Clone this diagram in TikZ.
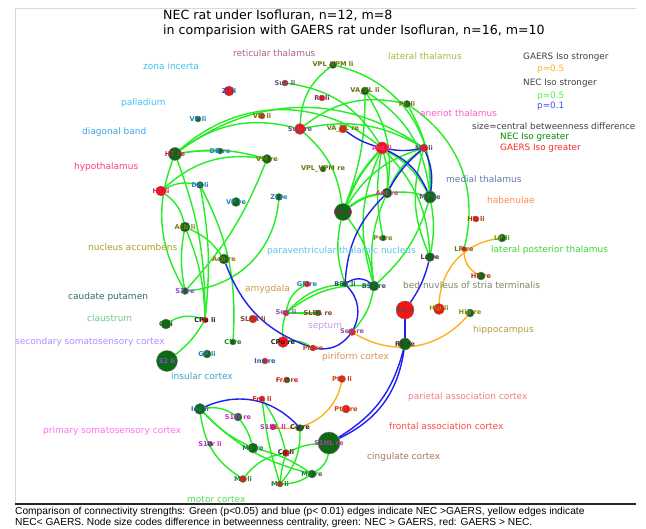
\documentclass[tikz,border=0pt]{standalone}
\usepackage{fontspec}
\setmainfont{DejaVu Sans}
\newfontfamily\capfont{Liberation Sans}
\definecolor{edgegreen}{HTML}{22EE22}
\definecolor{edgeblue}{HTML}{1E1EF0}
\definecolor{edgeorange}{HTML}{FFB020}
\definecolor{nodegreen}{HTML}{0B6A12}
\definecolor{nodered}{HTML}{FF1010}
\pgfdeclarelayer{paper}
\pgfdeclarelayer{edges}
\pgfsetlayers{paper,edges,main}
% one brain region: name, x, y, diameter, fill, label, label colour
\newcommand\bnd[7]{%
  \definecolor{lc#1}{HTML}{#7}%
  \node[bnode,fill=#5,minimum size=#4pt] (#1) at (#2,#3) {};
  \node[blabel,text=lc#1] (#1-t) at (#2,#3) {#6};}
% one coloured region caption: name, x, y, colour, text
\newcommand\rgn[5]{%
  \definecolor{rc#1}{HTML}{#4}%
  \node[region,text=rc#1] (#1) at (#2,#3) {#5};}
\begin{document}
\begin{tikzpicture}[x=1pt,y=-1pt,
  bnode/.style={circle,draw=black!55,line width=0.4pt,inner sep=0pt},
  blabel/.style={font=\fontsize{6.6}{7}\selectfont\bfseries,inner sep=0pt},
  region/.style={anchor=west,font=\fontsize{9}{10}\selectfont,inner sep=0pt},
  legend/.style={anchor=west,font=\fontsize{8.8}{10}\selectfont,inner sep=0pt},
  ge/.style={draw=edgegreen,line width=1.4pt},
  gt/.style={draw=edgegreen,line width=2.2pt},
  be/.style={draw=edgeblue,line width=1.4pt},
  oe/.style={draw=edgeorange,line width=1.4pt},
]
\useasboundingbox (0,0) rectangle (646,529);
\begin{pgfonlayer}{paper}
\fill[white] (0,0) rectangle (646,529);
\end{pgfonlayer}

% frame of the plot area
\draw[black!15,line width=1pt] (15,504) -- (15,9) -- (636,9);
\draw[black!85,line width=1.4pt] (15,504) -- (636,504);

% title
\node[anchor=west,font=\fontsize{12.6}{14}\selectfont,inner sep=0pt] (title1) at (163,15) {NEC rat under Isofluran, n=12, m=8};
\node[anchor=west,font=\fontsize{12.6}{14}\selectfont,inner sep=0pt] (title2) at (163,31) {in comparision with GAERS rat under Isofluran, n=16, m=10};

% legend
\node[legend,text=black!75] (lg1) at (523,57) {GAERS Iso stronger};
\node[legend,text=edgeorange] (lg2) at (537,69) {p=0.5};
\node[legend,text=black!75] (lg3) at (523,83) {NEC Iso stronger};
\node[legend,text=edgegreen!80] (lg4) at (537,96) {p=0.5};
\node[legend,text=edgeblue!80] (lg5) at (537,106) {p=0.1};
\node[legend,text=black!75] (lg6) at (472,126) {size=central betweenness difference};
\node[legend,text=green!55!black] (lg7) at (500,137) {NEC Iso greater};
\node[legend,text=red!85] (lg8) at (500,148) {GAERS Iso greater};

% region captions
\rgn{r1}{233}{53}{B0608F}{reticular thalamus}
\rgn{r2}{143}{66}{3EC3F0}{zona incerta}
\rgn{r3}{388}{56}{9CC040}{lateral thalamus}
\rgn{r4}{121}{103}{3EC3F0}{palladium}
\rgn{r5}{82}{132}{3AA6E8}{diagonal band}
\rgn{r6}{420}{113}{FF5CC8}{aneriot thalamus}
\rgn{r7}{74}{167}{FF3D7F}{hypothalamus}
\rgn{r8}{446}{179}{6A7AA8}{medial thalamus}
\rgn{r9}{487}{200}{FF8A4A}{habenulae}
\rgn{r10}{491}{250}{3FD43F}{lateral posterior thalamus}
\rgn{r11}{88}{247}{A8A020}{nucleus accumbens}
\rgn{r12}{267}{251}{5CC6E6}{paraventricular thalamic nucleus}
\rgn{r13}{245}{289}{D09A40}{amygdala}
\rgn{r14}{403}{285}{758A6A}{bed nuvleus of stria terminalis}
\rgn{r15}{68}{297}{2E6B6B}{caudate putamen}
\rgn{r16}{87}{318}{72C98A}{claustrum}
\rgn{r17}{308}{326}{C89AE8}{septum}
\rgn{r18}{15}{342}{B38CFF}{secondary somatosensory cortex}
\rgn{r19}{473}{330}{B89A48}{hippocampus}
\rgn{r20}{171}{376}{3DA5C8}{insular cortex}
\rgn{r21}{322}{357}{E09050}{piriform cortex}
\rgn{r22}{408}{397}{F07C8A}{parietal association cortex}
\rgn{r23}{389}{426}{FF4848}{frontal association cortex}
\rgn{r24}{43}{431}{FF70F0}{primary somatosensory cortex}
\rgn{r25}{367}{457}{A87858}{cingulate cortex}
\rgn{r26}{187}{499}{5CD65C}{motor cortex}

% brain regions
\bnd{ZIli}{229}{91}{10}{nodered}{ZI li}{2050C0}
\bnd{Subli}{285}{83}{6}{nodered}{Sub li}{605878}
\bnd{VPLli}{333}{65}{7}{nodegreen}{VPL\_VPM li}{707010}
\bnd{Rtli}{322}{98}{6}{nodered}{Rt li}{902060}
\bnd{VAli}{365}{91}{8}{nodegreen}{VA\_VL li}{707010}
\bnd{Poli}{407}{104}{7}{nodegreen}{Po li}{707010}
\bnd{VPli}{198}{119}{6}{nodegreen}{VP li}{2080C0}
\bnd{VMli}{262}{116}{6}{nodered}{VM li}{707010}
\bnd{Subre}{300}{129}{11}{nodered}{Sub re}{605878}
\bnd{VAre}{343}{129}{8}{nodered}{VA\_VL re}{707010}
\bnd{Antli}{382}{148}{12}{nodered}{Ant li}{E030A0}
\bnd{MTli}{424}{148}{8}{nodered}{MT li}{605878}
\bnd{HTre}{175}{154}{13}{nodegreen}{HT re}{D02050}
\bnd{DBre}{220}{151}{6}{nodegreen}{DB re}{2080D0}
\bnd{VMre}{267}{159}{9}{nodegreen}{VM re}{707010}
\bnd{VPLre}{323}{169}{6}{nodegreen}{VPL\_VPM re}{707010}
\bnd{DBli}{200}{185}{7}{nodegreen}{DB li}{2080D0}
\bnd{HTli}{161}{191}{10}{nodered}{HT li}{D02050}
\bnd{VPre}{236}{202}{9}{nodegreen}{VP re}{2080C0}
\bnd{ZIre}{279}{197}{7}{nodegreen}{ZI re}{2080C0}
\bnd{Antre}{387}{193}{10}{nodegreen}{Ant re}{E030A0}
\bnd{MTre}{430}{197}{12}{nodegreen}{MT re}{505878}
\bnd{Rtre}{343}{212}{17}{nodegreen}{Rt re}{902060}
\bnd{Hbli}{476}{219}{6}{nodered}{Hb li}{A04010}
\bnd{Acbli}{185}{227}{10}{nodegreen}{Acb li}{8A7A10}
\bnd{Pvre}{383}{238}{6}{nodegreen}{Pv re}{808020}
\bnd{LPli}{502}{238}{8}{nodegreen}{LP li}{60A010}
\bnd{LPre}{464}{249}{5}{nodered}{LP re}{707010}
\bnd{Lare}{430}{257}{9}{nodegreen}{La re}{404040}
\bnd{Acbre}{224}{259}{10}{nodegreen}{Acb re}{8A7A10}
\bnd{Hbre}{481}{276}{8}{nodegreen}{Hb re}{A04010}
\bnd{GPre}{307}{284}{6}{nodered}{GP re}{2080A0}
\bnd{BSTli}{345}{284}{6}{nodegreen}{BST li}{206060}
\bnd{BSTre}{374}{286}{10}{nodegreen}{BST re}{206060}
\bnd{S2re}{185}{291}{7}{nodegreen}{S2 re}{8050D0}
\bnd{Hipli}{439}{309}{11}{nodered}{Hip li}{909010}
\bnd{RSli}{405}{310}{18}{nodered}{RS li}{505050}
\bnd{Hipre}{470}{313}{8}{nodegreen}{Hip re}{909010}
\bnd{Sepli}{286}{313}{6}{nodered}{Sep li}{9050B0}
\bnd{SLEAre}{318}{313}{6}{nodegreen}{SLEA re}{904020}
\bnd{SLEAli}{253}{319}{8}{nodered}{SLEA li}{904020}
\bnd{CPuli}{205}{320}{6}{nodered}{CPu li}{202020}
\bnd{Clli}{166}{324}{10}{nodegreen}{Cl li}{206020}
\bnd{Sepre}{352}{332}{7}{nodered}{Sep re}{9050B0}
\bnd{Clre}{233}{342}{6}{nodegreen}{Cl re}{208030}
\bnd{CPure}{283}{342}{11}{nodered}{CPu re}{202020}
\bnd{RSre}{405}{344}{12}{nodegreen}{RS re}{503020}
\bnd{Pirre}{313}{348}{6}{nodered}{Pir re}{B05020}
\bnd{GPli}{207}{354}{8}{nodegreen}{GP li}{2080A0}
\bnd{S2li}{167}{361}{21}{nodegreen}{S2 li}{8050D0}
\bnd{Insre}{265}{361}{6}{nodered}{Ins re}{2060A0}
\bnd{PtAli}{342}{379}{7}{nodered}{PtA li}{D04010}
\bnd{FrAre}{287}{380}{6}{nodegreen}{FrA re}{D02020}
\bnd{FrAli}{262}{399}{6}{nodered}{FrA li}{D02020}
\bnd{PtAre}{346}{409}{8}{nodered}{PtA re}{D04010}
\bnd{Insli}{200}{409}{11}{nodegreen}{Ins li}{2070A0}
\bnd{S1Trre}{238}{417}{8}{nodegreen}{S1Tr re}{C030C0}
\bnd{S1HLli}{273}{427}{6}{nodered}{S1HL li}{C030C0}
\bnd{Cgre}{300}{428}{7}{nodegreen}{Cg re}{402020}
\bnd{S1HLre}{329}{443}{22}{nodegreen}{S1HL re}{C030C0}
\bnd{S1Trli}{210}{444}{5}{nodegreen}{S1Tr li}{C030C0}
\bnd{M1re}{253}{448}{10}{nodegreen}{M1 re}{208030}
\bnd{Cgli}{286}{453}{7}{nodered}{Cg li}{402020}
\bnd{M2re}{312}{474}{8}{nodegreen}{M2 re}{208030}
\bnd{M1li}{243}{479}{7}{nodered}{M1 li}{208030}
\bnd{M2li}{280}{484}{6}{nodered}{M2 li}{208030}

\begin{pgfonlayer}{edges}
% NEC stronger, p=0.5
\draw[ge] (HTre) to[bend left=40] (Antli);
\draw[ge] (HTre) to[bend left=35] (MTli);
\draw[ge] (HTre) to[bend left=25] (Subre);
\draw[ge] (HTre) to[bend left=12] (VMre);
\draw[ge] (HTre) to[bend left=5] (DBre);
\draw[ge] (HTre) to[bend right=25] (S2re);
\draw[ge] (HTre) to[bend left=10] (CPuli);
\draw[ge] (HTli) to[bend left=25] (VMre);
\draw[ge] (HTli) to[bend left=20] (DBli);
\draw[ge] (HTli) to[bend left=20] (Acbli);
\draw[ge] (DBli) to[bend left=8] (CPuli);
\draw[ge] (DBli) to[bend left=15] (Clre);
\draw[ge] (Acbli) to[bend left=15] (Acbre);
\draw[ge] (Acbli) to[bend right=10] (S2re);
\draw[ge] (Acbli) to[bend left=10] (CPuli);
\draw[ge] (ZIre) to[bend left=40] (S2re);
\draw[ge] (VMre) to[bend left=10] (S2re);
\draw[ge] (CPuli) to[bend right=25] (Clli);
\draw[ge] (CPuli) to[bend left=10] (S2li);
\draw[ge] (Sepli) to[bend left=25] (GPre);
\draw[ge] (Sepli) to[bend left=20] (BSTli);
\draw[ge] (Sepli) to[bend left=20] (BSTre);
\draw[ge] (Sepli) to[bend right=10] (CPure);
\draw[ge] (CPure) to[bend left=20] (Pirre);
\draw[ge] (Sepli) -- (SLEAre);
\draw[ge] (BSTre) to[bend left=15] (Sepre);
\draw[gt] (Rtre) to[bend left=10] (Antli);
\draw[gt] (Rtre) to[bend left=15] (Antre);
\draw[ge] (Rtre) to[bend left=20] (MTli);
\draw[ge] (Rtre) to[bend right=10] (VAli);
\draw[ge] (Rtre) to[bend right=20] (Subre);
\draw[ge] (Rtre) to[bend right=15] (BSTli);
\draw[ge] (Rtre) to[bend left=15] (BSTre);
\draw[ge] (Antli) to[bend left=10] (Antre);
\draw[ge] (Antli) to[bend left=15] (MTre);
\draw[ge] (Antli) to[bend right=10] (Pvre);
\draw[ge] (Antli) to[bend right=20] (BSTre);
\draw[ge] (Antli) to[bend left=20] (Lare);
\draw[ge] (MTli) to[bend right=20] (Lare);
\draw[ge] (MTli) to[bend right=15] (Antre);
\draw[ge] (Antre) to[bend left=10] (MTre);
\draw[ge] (Antre) to[bend right=15] (BSTre);
\draw[ge] (MTre) to[bend left=15] (BSTre);
\draw[ge] (MTre) to[bend left=10] (Lare);
\draw[ge] (VPLli) to[bend left=40] (MTre);
\draw[ge] (VPLli) to[bend right=25] (Subre);
\draw[ge] (VAli) to[bend left=20] (Antre);
\draw[ge] (VAli) to[bend left=25] (MTre);
\draw[ge] (Poli) to[bend left=15] (MTre);
\draw[ge] (Poli) to[bend left=35] (LPre);
\draw[ge] (Poli) to[bend right=25] (Subre);
\draw[ge] (Subli) to[bend left=25] (Antli);
\draw[ge] (Subre) to[bend left=20] (MTli);
\draw[ge] (Insli) to[bend left=20] (S1Trre);
\draw[ge] (Insli) to[bend right=10] (M1re);
\draw[ge] (Insli) to[bend right=25] (M1li);
\draw[ge] (Insli) to[bend right=15] (M2re);
\draw[ge] (S1Trre) to[bend left=10] (M1re);
\draw[ge] (FrAli) to[bend right=5] (M2li);
\draw[ge] (FrAli) to[bend left=10] (Cgli);
\draw[ge] (M1re) to[bend left=10] (M2re);
\draw[ge] (M1li) to[bend left=20] (Cgli);
\draw[ge] (Cgli) to[bend left=10] (S1HLre);
\draw[ge] (M2li) to[bend left=5] (Cgli);
\draw[ge] (M2li) to[bend right=20] (Cgre);
\draw[ge] (M2li) to[bend right=15] (M2re);
\draw[ge] (M2re) to[bend right=25] (S1HLre);
% NEC stronger, p=0.1
\draw[be] (Acbre) to[bend right=25] (Pirre);
\draw[be] (Pirre) to[bend right=30] (Sepre);
\draw[be] (Antre) to[bend right=20] (BSTli);
\draw[be] (Antre) to[bend left=10] (MTli);
\draw[be] (BSTli) to[bend left=35] (BSTre);
\draw[be] (BSTli) to[bend left=35] (Sepre);
\draw[be] (VAre) to[bend right=10] (Antli);
\draw[be] (Antli) to[bend right=10] (MTli);
\draw[be] (Antli) to[bend left=20] (MTre);
\draw[be] (MTli) to[bend left=15] (MTre);
\draw[be] (Lare) to[bend left=10] (RSli);
\draw[be] (RSli) -- (RSre);
\draw[be] (RSre) to[bend left=22] (S1HLre);
\draw[be] (RSre) to[bend left=28] (S1HLre);
\draw[be] (Insli) to[bend left=35] (Cgre);
% GAERS stronger, p=0.5
\draw[oe] (Sepre) to[bend right=40] (Hipre);
\draw[oe] (Hipli) to[bend left=40] (LPli);
\draw[oe] (LPre) to[bend right=30] (Hbre);
\draw[oe] (PtAli) to[bend left=45] (S1HLli);
\end{pgfonlayer}

% caption below the plot
\node[anchor=north west,align=left,inner sep=0pt,font=\capfont\fontsize{10.2}{11}\selectfont] (caption) at (15,507)
  {Comparison of connectivity strengths: Green (p<0.05) and blue (p< 0.01) edges indicate NEC >GAERS, yellow edges indicate\\
   NEC< GAERS. Node size codes difference in betweenness centrality, green: NEC > GAERS, red: GAERS > NEC.};
\end{tikzpicture}
\end{document}
